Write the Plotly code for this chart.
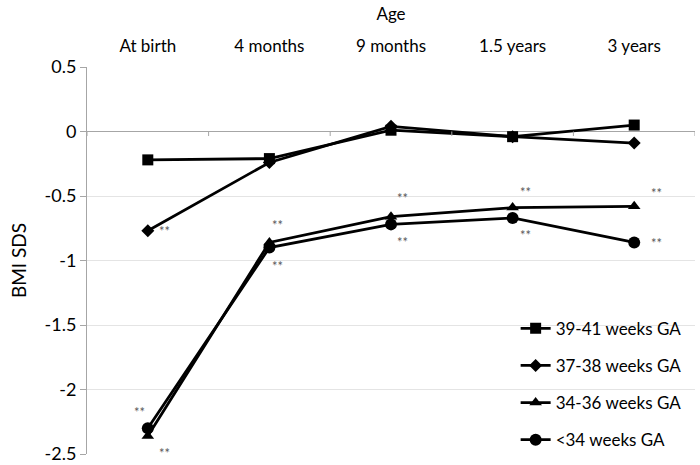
import plotly.graph_objects as go

ages = ["At birth", "4 months", "9 months", "1.5 years", "3 years"]

ga_39_41 = [-0.22, -0.21, 0.01, -0.04, 0.05]
ga_37_38 = [-0.77, -0.24, 0.04, -0.04, -0.09]
ga_34_36 = [-2.36, -0.86, -0.66, -0.59, -0.58]
ga_lt_34 = [-2.30, -0.90, -0.72, -0.67, -0.86]

y_ticks = [0.5, 0, -0.5, -1, -1.5, -2, -2.5]
y_tick_text = ["0.5", "0", "-0.5", "-1", "-1.5", "-2", "-2.5"]

series = [
    ("39-41 weeks GA", ga_39_41, "square", 11),
    ("37-38 weeks GA", ga_37_38, "diamond", 10),
    ("34-36 weeks GA", ga_34_36, "triangle-up", 11),
    ("<34 weeks GA", ga_lt_34, "circle", 12),
]

# significance marks: (series values, age index, xshift px, yshift px)
stars = [
    (ga_37_38, 0, 17, 0),
    (ga_34_36, 1, 8, 17),
    (ga_lt_34, 1, 8, -18),
    (ga_34_36, 2, 11, 19),
    (ga_lt_34, 2, 11, -18),
    (ga_34_36, 3, 13, 16),
    (ga_lt_34, 3, 13, -17),
    (ga_34_36, 4, 22, 13),
    (ga_lt_34, 4, 22, -1),
    (ga_lt_34, 0, -8, 16),
    (ga_34_36, 0, 17, -17),
]

fig = go.Figure()
for name, values, symbol, size in series:
    fig.add_trace(go.Scatter(
        x=ages, y=values, name=name, legendgroup=name, mode="lines+markers",
        line=dict(color="black", width=2.8),
        marker=dict(symbol=symbol, size=size, color="black"),
    ))

for values, i, dx, dy in stars:
    fig.add_annotation(x=ages[i], y=values[i], text="**", showarrow=False,
                       xshift=dx, yshift=dy, font=dict(size=13, color="#5a5a5a"))

# tick marks along the zero line at category boundaries
for i in range(len(ages) + 1):
    fig.add_shape(type="line", x0=i - 0.5, x1=i - 0.5, y0=0, y1=-0.035,
                  xref="x", yref="y", line=dict(color="#a6a6a6", width=1))

fig.update_layout(
    width=700, height=465,
    margin=dict(l=87, r=5, t=67, b=11, autoexpand=False),
    plot_bgcolor="white", paper_bgcolor="white",
    font=dict(family="Lato", size=17, color="black"),
    showlegend=True,
    legend=dict(x=0.705, y=0.37, xanchor="left", yanchor="top",
                bgcolor="rgba(0,0,0,0)", tracegroupgap=12,
                font=dict(size=17)),
    xaxis=dict(
        side="top", type="category", range=[-0.5, 4.5],
        showline=False, showgrid=False, ticks="", automargin=False,
        ticklabelstandoff=11,
        title=dict(text="Age", standoff=9, font=dict(size=17)),
        tickfont=dict(size=17),
    ),
    yaxis=dict(
        range=[-2.5, 0.5], tickmode="array", tickvals=y_ticks, ticktext=y_tick_text,
        showline=True, linecolor="#a6a6a6", linewidth=1, automargin=False,
        ticks="outside", ticklen=6, tickcolor="#a6a6a6",
        showgrid=True, gridcolor="#e4e4e4",
        zeroline=True, zerolinecolor="#a6a6a6", zerolinewidth=1,
        title=dict(text="BMI SDS", standoff=12, font=dict(size=19)),
        tickfont=dict(size=18),
    ),
)

fig.write_html("out.html", config={"displayModeBar": False},
               post_script="document.body.style.margin = '0';")
